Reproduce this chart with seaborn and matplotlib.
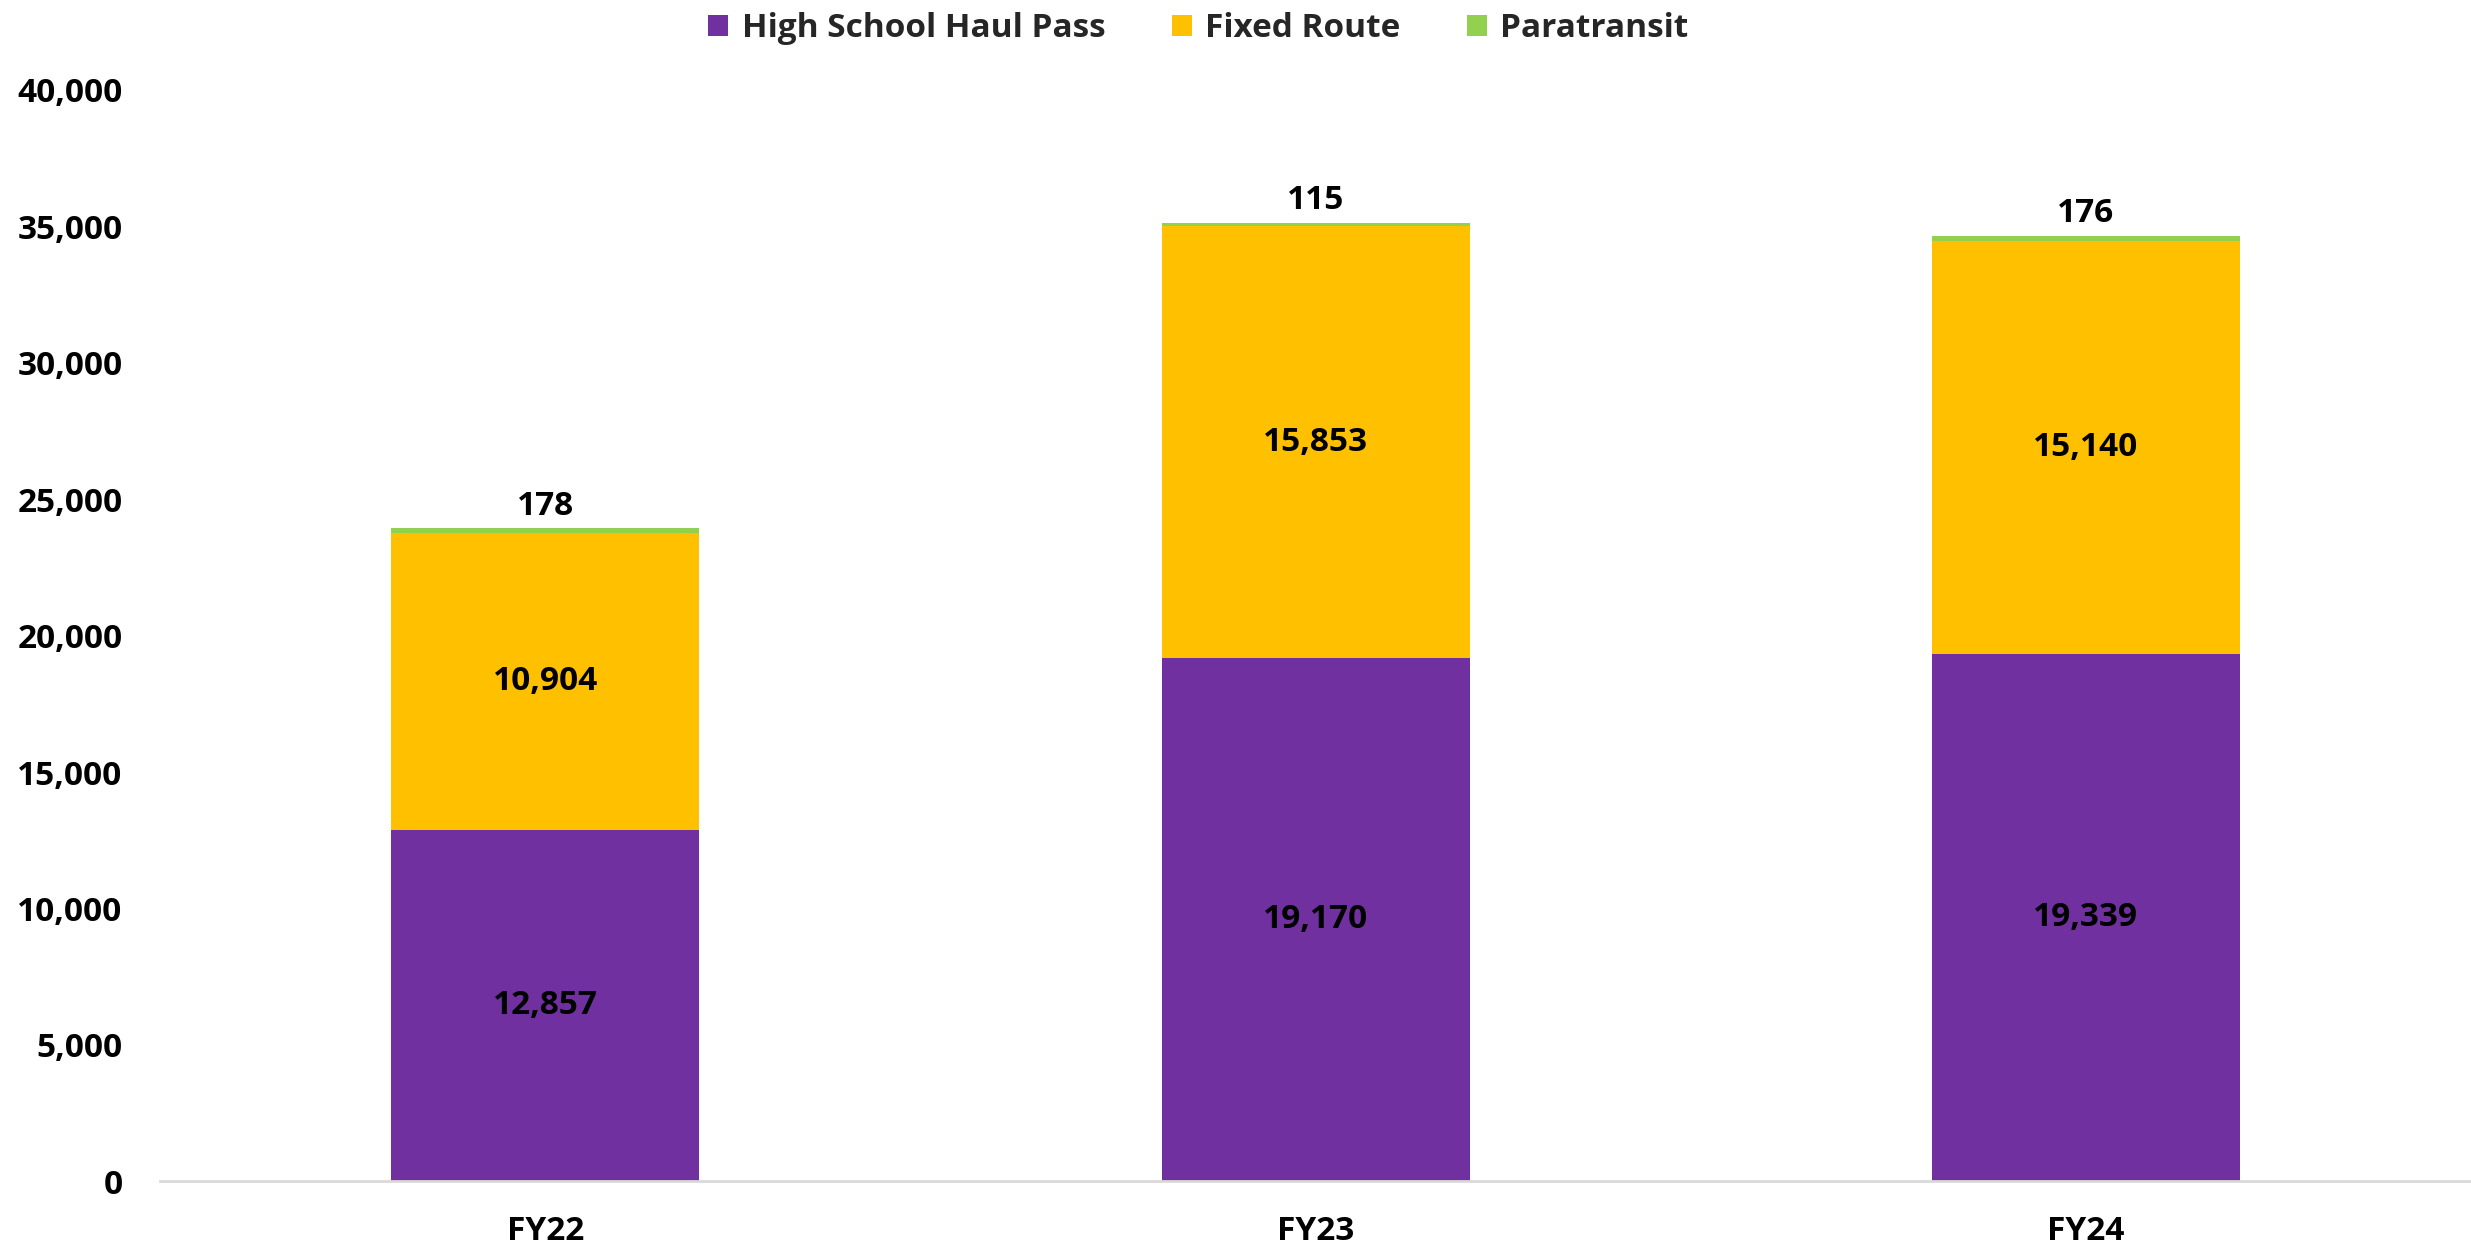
import numpy as np
import pandas as pd
import matplotlib
matplotlib.use("Agg")
import matplotlib.pyplot as plt
from matplotlib.patches import Patch
import seaborn as sns

years = ["FY22", "FY23", "FY24"]
hs_haul = [12857, 19170, 19339]
fixed_route = [10904, 15853, 15140]
paratransit = [178, 115, 176]

series = ["High School Haul Pass", "Fixed Route", "Paratransit"]
colors = ["#7030A0", "#FFC000", "#92D050"]

sns.set_theme(style="white")
plt.rcParams['font.family'] = ['Open Sans', 'DejaVu Sans']
plt.rcParams['font.weight'] = 'bold'

df = pd.DataFrame({"year": years, series[0]: hs_haul,
                   series[1]: fixed_route, series[2]: paratransit})

fig = plt.figure(figsize=(24.71, 12.5), dpi=100)
ax = fig.add_axes([0.0648, 0.055, 0.9352, 0.873])

# stacked bars, one layer per series
bottom = np.zeros(len(years))
for name, col in zip(series, colors):
    sns.barplot(data=df, x="year", y=name, color=col, bottom=bottom,
                width=0.4, ax=ax, saturation=1, linewidth=0, legend=False)
    bottom = bottom + df[name].values

for i, cont in enumerate(ax.containers):
    labels = [f"{v:,.0f}" for v in df[series[i]]]
    if i < 2:
        ax.bar_label(cont, labels=labels, label_type="center",
                     fontsize=24, fontweight="bold", color="black")
    else:
        ax.bar_label(cont, labels=labels, label_type="edge", padding=4,
                     fontsize=24, fontweight="bold", color="black")

ax.set_ylim(0, 40000)
ax.set_xlim(-0.5, 2.5)
ax.set_yticks(range(0, 40001, 5000))
ax.yaxis.set_major_formatter(matplotlib.ticker.FuncFormatter(lambda v, p: f"{v:,.0f}"))
ax.tick_params(axis="y", labelsize=24, length=0, pad=27, labelcolor="black")
ax.tick_params(axis="x", labelsize=24, length=0, pad=24, labelcolor="black")
for lab in ax.get_xticklabels() + ax.get_yticklabels():
    lab.set_fontweight("bold")
ax.set_xlabel("")
ax.set_ylabel("")
for s in ["top", "right", "left"]:
    ax.spines[s].set_visible(False)
ax.spines["bottom"].set_color("#D9D9D9")
ax.spines["bottom"].set_linewidth(2)

handles = [Patch(facecolor=c, edgecolor="none") for c in colors]
fig.legend(handles, series, loc="center", bbox_to_anchor=(0.485, 0.977), ncol=3,
           frameon=False, handlelength=0.6, handleheight=0.6,
           handletextpad=0.4, columnspacing=2.0, prop={"weight": "bold", "size": 24})

fig.savefig("out.png", dpi=100)
